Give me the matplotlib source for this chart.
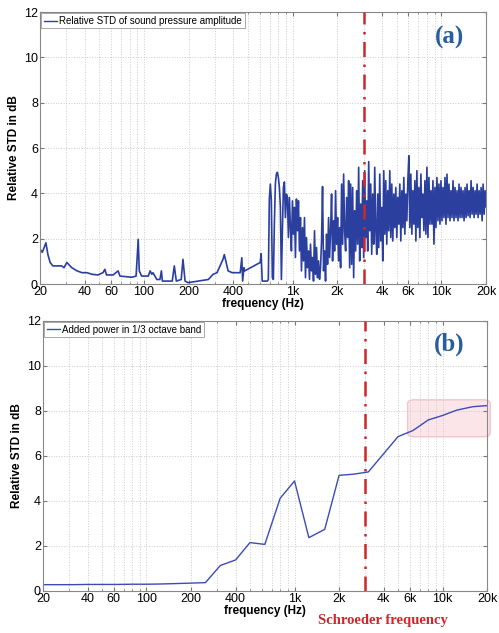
import numpy as np
import matplotlib
matplotlib.use('Agg')
import matplotlib.pyplot as plt
from matplotlib.patches import FancyBboxPatch
from matplotlib.ticker import FixedLocator, FixedFormatter, LogLocator, NullFormatter

plt.rcParams['font.family'] = 'Liberation Sans'

# ---- panel (a): relative STD of sound pressure amplitude ----
# smooth low-frequency part (Hz, dB)
low_freq = [20, 20.7, 21.3, 21.9, 22.6, 23.4, 24.4, 25.8, 28, 29,
            30.3, 32.7, 35.5, 38.3, 41.4, 44.7, 49, 53, 54.6, 56,
            62, 67, 69, 83, 88.5, 91.5, 93, 96.5, 107, 110,
            113, 115, 122, 128, 131, 133, 155, 160, 165, 178,
            183, 189, 198, 231, 271, 292, 310, 325, 340, 347,
            357, 368, 392, 444, 455, 461, 470, 476, 605, 614,
            624, 676, 686]
low_std = [1.54, 1.4, 1.6, 1.82, 1.3, 0.95, 0.8, 0.8, 0.8, 0.72,
           0.95, 0.72, 0.58, 0.5, 0.5, 0.43, 0.4, 0.5, 0.65, 0.4,
           0.4, 0.58, 0.35, 0.3, 0.35, 1.97, 0.58, 0.35, 0.35, 0.58,
           0.43, 0.5, 0.2, 0.2, 0.58, 0.13, 0.13, 0.8, 0.13, 0.2,
           1.09, 0.13, 0.06, 0.13, 0.2, 0.43, 0.5, 0.8, 1.09, 1.3,
           0.95, 0.58, 0.5, 0.5, 1.16, 0.13, 0.72, 0.58, 0.95, 1.34,
           0.13, 0.13, 0.2]

# dense, noisy part from ~700 Hz to 20 kHz (read column by column)
hf_start, hf_stop = 697, 20000
hf_std = [
    3.75, 4.41, 3.67, 0.28, 0.2, 2.64, 4.41, 4.85, 4.93, 4.70,
    4.26, 3.40, 0.2, 2.35, 4.26, 4.50, 2.93, 3.97, 3.82, 2.05,
    3.82, 2.49, 1.46, 3.67, 2.20, 3.38, 1.17, 3.75, 2.35, 3.67,
    1.46, 2.93, 0.58, 2.49, 1.02, 2.93, 0.28, 2.05, 0.72, 1.46,
    0.21, 1.76, 0.58, 1.17, 0.13, 2.35, 0.43, 1.61, 0.28, 1.02,
    0.21, 0.72, 1.90, 4.30, 0.58, 1.46, 0.13, 2.20, 0.87, 2.93,
    1.17, 2.35, 3.97, 1.02, 2.79, 1.46, 4.12, 1.76, 2.93, 1.02,
    2.49, 0.72, 4.41, 1.76, 4.85, 2.35, 1.46, 3.82, 2.05, 4.56,
    0.72, 4.41, 0.87, 4.26, 0.28, 3.23, 1.46, 4.12, 1.76, 5.15,
    1.02, 3.53, 1.61, 4.56, 1.17, 5.00, 2.05, 3.67, 1.46, 5.40,
    2.35, 4.41, 1.31, 3.97, 1.76, 5.15, 2.49, 1.31, 3.97, 1.61,
    4.85, 1.90, 3.38, 1.02, 5.00, 2.20, 4.56, 1.76, 4.12, 2.35,
    5.00, 2.05, 4.41, 1.90, 3.97, 2.49, 4.26, 2.05, 3.82, 2.64,
    4.41, 1.90, 4.12, 2.49, 4.70, 2.20, 3.97, 2.79, 4.56, 5.66,
    2.49, 4.85, 2.20, 4.12, 2.64, 4.56, 1.90, 5.00, 2.49, 4.26,
    2.05, 4.85, 2.93, 3.97, 2.35, 4.56, 2.20, 5.15, 2.05, 4.70,
    2.64, 4.12, 2.64, 4.56, 1.76, 4.26, 2.49, 4.70, 2.79, 4.41,
    2.64, 4.56, 2.79, 4.26, 2.93, 4.70, 2.64, 4.85, 2.93, 4.41,
    2.79, 4.12, 2.93, 4.56, 2.79, 4.26, 2.93, 4.12, 2.79, 4.41,
    2.93, 4.26, 2.93, 4.12, 2.79, 4.26, 2.93, 4.41, 3.01, 4.12,
    2.93, 4.56, 3.08, 4.26, 2.93, 4.12, 3.08, 4.41, 2.93, 4.12,
    3.08, 4.26, 2.79, 4.41, 3.08, 4.12, 3.40]

# ---- panel (b): added power in 1/3 octave bands ----
band_freq = [20, 25, 31.5, 40, 50, 63, 80, 100, 125, 160, 200, 250,
             315, 400, 500, 630, 800, 1000, 1250, 1600, 2000, 2500,
             3150, 4000, 5000, 6300, 8000, 10000, 12500, 16000, 20000]
band_std = [0.28, 0.28, 0.28, 0.29, 0.29, 0.29, 0.30, 0.30, 0.31, 0.33, 0.35, 0.37,
            1.13, 1.38, 2.15, 2.07, 4.12, 4.89, 2.37, 2.74, 5.14, 5.19,
            5.29, 6.10, 6.86, 7.13, 7.60, 7.80, 8.04, 8.19, 8.24]

schroeder_hz = 3000
shade_freq = (5800, 21000)
shade_std = (6.85, 8.5)

tick_vals = [20, 40, 60, 100, 200, 400, 1000, 2000, 4000, 6000, 10000, 20000]
tick_text = ['20', '40', '60', '100', '200', '400', '1k', '2k', '4k', '6k', '10k', '20k']

line_blue = '#2b3f9e'
red = '#d0252b'
label_blue = '#2a5d9c'


def style_axes(ax):
    ax.set_xscale('log')
    ax.set_xlim(20, 20000)
    ax.set_ylim(0, 12)
    ax.set_yticks([0, 2, 4, 6, 8, 10, 12])
    ax.xaxis.set_major_locator(FixedLocator(tick_vals))
    ax.xaxis.set_major_formatter(FixedFormatter(tick_text))
    ax.xaxis.set_minor_locator(LogLocator(base=10, subs=np.arange(2, 10)))
    ax.xaxis.set_minor_formatter(NullFormatter())
    ax.grid(True, which='both', axis='x', linestyle=':', color='#cccccc', linewidth=0.7)
    ax.grid(True, which='major', axis='y', linestyle=':', color='#cccccc', linewidth=0.7)
    ax.tick_params(which='both', direction='in', top=True, right=True,
                   labelsize=9, pad=1.5, color='#777777')
    ax.tick_params(which='major', length=3)
    ax.tick_params(which='minor', length=1.5)
    for s in ax.spines.values():
        s.set_color('#888888')
        s.set_linewidth(0.8)
    ax.set_xlabel('frequency (Hz)', fontsize=8.5, weight='bold', labelpad=0)
    ax.set_ylabel('Relative STD in dB', fontsize=8.5, weight='bold', labelpad=3)
    ax.axvline(schroeder_hz, color=red, linestyle=(0, (6, 3, 1, 3)), linewidth=1.8, zorder=5)


fig = plt.figure(figsize=(4.99, 6.33), dpi=100)
ax1 = fig.add_axes([0.0802, 0.5513, 0.894, 0.4297])
ax2 = fig.add_axes([0.0862, 0.0664, 0.890, 0.4265])

# panel (a)
freq_a = np.concatenate([low_freq, np.geomspace(hf_start, hf_stop, len(hf_std))])
std_a = np.concatenate([low_std, hf_std])
ax1.plot(freq_a, std_a, color=line_blue, linewidth=1.2, label='Relative STD of sound pressure amplitude')
style_axes(ax1)
leg = ax1.legend(loc='upper left', fontsize=7, handlelength=1.3, handletextpad=0.3,
                 borderpad=0.25, borderaxespad=0.15, fancybox=False, framealpha=1)
leg.get_frame().set_edgecolor('#999999')
leg.get_frame().set_linewidth(0.6)
leg.get_lines()[0].set_linewidth(1.0)
ax1.text(0.918, 0.905, '(a)', transform=ax1.transAxes, ha='center', va='center',
         fontsize=18, weight='bold', family='Liberation Serif', color=label_blue)

# panel (b)
ax2.plot(band_freq, band_std, color='#3c4bb5', linewidth=1.0, label='Added power in 1/3 octave band')
style_axes(ax2)
leg = ax2.legend(loc='upper left', fontsize=7, handlelength=1.3, handletextpad=0.3,
                 borderpad=0.25, borderaxespad=0.15, fancybox=False, framealpha=1)
leg.get_frame().set_edgecolor('#999999')
leg.get_frame().set_linewidth(0.6)
ax2.text(0.914, 0.915, '(b)', transform=ax2.transAxes, ha='center', va='center',
         fontsize=18, weight='bold', family='Liberation Serif', color=label_blue)

# highlighted region (pink rounded box)
to_axes = ax2.transData + ax2.transAxes.inverted()
(x0, y0), (x1, y1) = to_axes.transform([(shade_freq[0], shade_std[0]), (shade_freq[1], shade_std[1])])
box = FancyBboxPatch((x0, y0), x1 - x0, y1 - y0, boxstyle='round,pad=0,rounding_size=0.015',
                     transform=ax2.transAxes, facecolor='#f7c6d0', alpha=0.45,
                     edgecolor='#e8909f', linewidth=1.0, clip_on=False, zorder=1)
ax2.add_patch(box)

fig.text(0.768, 0.019, 'Schroeder frequency', ha='center', va='center', fontsize=10.5,
         weight='bold', family='Liberation Serif', color=red)

fig.savefig('out.png', dpi=100)
